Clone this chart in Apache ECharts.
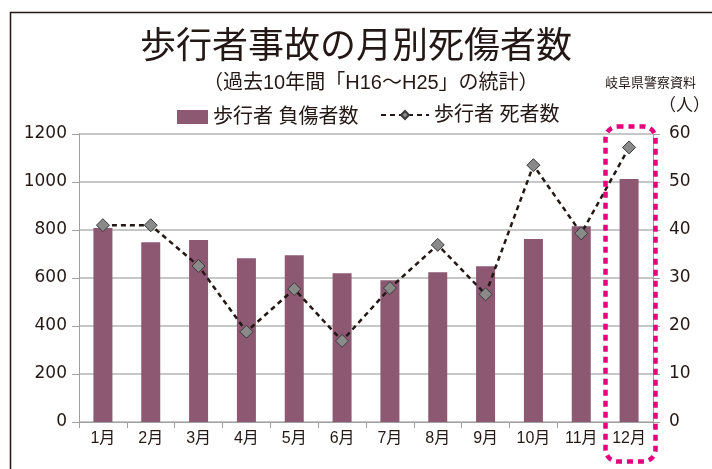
<!DOCTYPE html>
<html><head><meta charset="utf-8">
<script src="https://cdn.jsdelivr.net/npm/echarts@6/dist/echarts.min.js"></script>
<style>html,body{margin:0;padding:0;background:#fff}#c{width:712px;height:469px}</style>
</head><body><div id="c"></div>
<script>
var months = ['1月','2月','3月','4月','5月','6月','7月','8月','9月','10月','11月','12月'];
var injured = [808, 749, 758, 682, 695, 620, 591, 624, 649, 762, 816, 1012];
var deaths = [41, 41, 32.5, 18.8, 27.7, 16.9, 27.9, 36.9, 26.6, 53.5, 39.3, 57.2];
var leftTicks = [0, 1200, 200];
var rightTicks = [0, 60, 10];
var FONT = "'Liberation Sans', 'Noto Sans CJK JP', sans-serif";
var NUMFONT = "'DejaVu Sans', 'Noto Sans CJK JP', sans-serif";

var chart = echarts.init(document.getElementById('c'));
chart.setOption({
  animation: false,
  backgroundColor: '#fff',
  textStyle: {fontFamily: FONT},
  title: [
    {text: '歩行者事故の月別死傷者数', left: 'center', top: 25,
     textStyle: {fontSize: 36, fontWeight: 'normal', color: '#231815', fontFamily: FONT}},
    {text: '（過去10年間「H16～H25」の統計）', left: 198, top: 68,
     textStyle: {fontSize: 20, fontWeight: 'normal', color: '#231815', fontFamily: FONT}},
    {text: '岐阜県警察資料', left: 600, top: 72,
     textStyle: {fontSize: 13, fontWeight: 'normal', color: '#231815', fontFamily: FONT}},
    {text: '（人）', left: 654, top: 93,
     textStyle: {fontSize: 17, fontWeight: 'normal', color: '#231815', fontFamily: FONT}}
  ],
  legend: [
    {left: 172, top: 102, itemWidth: 31, itemHeight: 14,
     textStyle: {fontSize: 20, color: '#231815', fontFamily: FONT},
     data: [{name: '歩行者 負傷者数', icon: 'rect'}]},
    {left: 375, top: 100, itemWidth: 48, itemHeight: 10,
     textStyle: {fontSize: 20, color: '#231815', fontFamily: FONT},
     data: [{name: '歩行者 死者数'}]}
  ],
  grid: {left: 79, right: 59, top: 134, bottom: 47},
  xAxis: {
    type: 'category', data: months, boundaryGap: true,
    axisLine: {lineStyle: {color: '#a0a0a0', width: 1}},
    axisTick: {show: true, length: 6, lineStyle: {color: '#a0a0a0'}},
    axisLabel: {fontSize: 16, color: '#231815', margin: 9, interval: 0, fontFamily: FONT}
  },
  yAxis: [
    {type: 'value', min: leftTicks[0], max: leftTicks[1], interval: leftTicks[2],
     axisLine: {show: true, lineStyle: {color: '#a0a0a0'}},
     axisTick: {show: true, length: 7, lineStyle: {color: '#a0a0a0'}},
     splitLine: {lineStyle: {color: '#b4b4b4', width: 1.5}},
     axisLabel: {fontSize: 17, color: '#231815', margin: 12, fontFamily: NUMFONT,
                 formatter: function (v) { return String(v); }}},
    {type: 'value', min: rightTicks[0], max: rightTicks[1], interval: rightTicks[2], position: 'right',
     axisLine: {show: true, lineStyle: {color: '#a0a0a0'}},
     axisTick: {show: true, length: 7, lineStyle: {color: '#a0a0a0'}},
     splitLine: {show: false},
     axisLabel: {fontSize: 17, color: '#231815', margin: 16, fontFamily: NUMFONT,
                 formatter: function (v) { return String(v); }}}
  ],
  series: [
    {name: '歩行者 負傷者数', type: 'bar', data: injured, yAxisIndex: 0, barWidth: 19,
     itemStyle: {color: '#8c5872'}},
    {name: '歩行者 死者数', type: 'line', data: deaths, yAxisIndex: 1,
     symbol: 'diamond', symbolSize: 13,
     lineStyle: {color: '#231815', width: 2.5, type: [5, 4]},
     itemStyle: {color: '#8a8a8a', borderColor: '#3a3a3a', borderWidth: 1}}
  ],
  graphic: [
    {type: 'rect', left: 8, top: 10, shape: {width: 720, height: 480},
     style: {fill: 'none', stroke: '#231815', lineWidth: 1.5}, silent: true},
    {type: 'rect', left: 603, top: 124, shape: {width: 50, height: 335, r: 12},
     style: {fill: 'none', stroke: '#e6007e', lineWidth: 4.5, lineDash: [6, 5]}, silent: true, z: 10}
  ]
});
</script></body></html>
